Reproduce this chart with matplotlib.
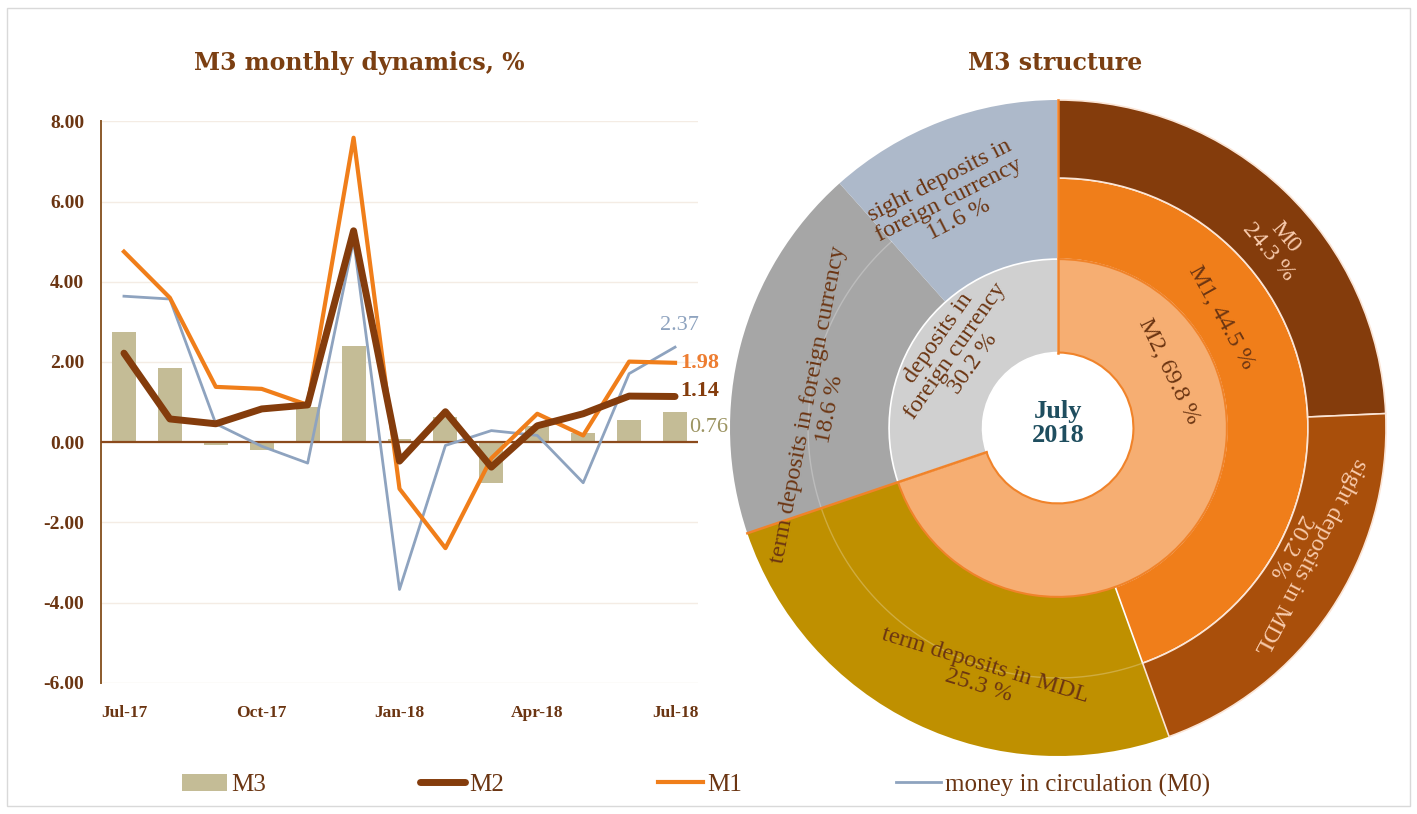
import matplotlib.pyplot as plt
import numpy as np
from matplotlib.patches import Rectangle, Patch
from matplotlib.lines import Line2D

# monthly dynamics, %
months = ["Jul-17", "Aug-17", "Sep-17", "Oct-17", "Nov-17", "Dec-17", "Jan-18",
          "Feb-18", "Mar-18", "Apr-18", "May-18", "Jun-18", "Jul-18"]
m3 = [2.75, 1.84, -0.06, -0.20, 0.88, 2.41, 0.08, 0.63, -1.01, 0.41, 0.24, 0.56, 0.76]
m2 = [2.22, 0.58, 0.46, 0.83, 0.93, 5.27, -0.47, 0.76, -0.62, 0.41, 0.71, 1.15, 1.14]
m1 = [4.75, 3.60, 1.38, 1.33, 0.93, 7.59, -1.16, -2.64, -0.40, 0.71, 0.17, 2.01, 1.98]
m0 = [3.64, 3.57, 0.46, -0.10, -0.52, 5.04, -3.67, -0.08, 0.29, 0.17, -1.01, 1.71, 2.37]

# M3 structure, July 2018 (%)
inner_names = ["M2", "deposits in foreign currency"]
inner_vals = [69.8, 30.2]
middle_names = ["M1", "term deposits in MDL", "term deposits in foreign currency",
                "sight deposits in foreign currency"]
middle_vals = [44.5, 25.3, 18.6, 11.6]
outer_names = ["M0", "sight deposits in MDL"]
outer_vals = [24.3, 20.2]

BROWN = "#843C0C"
TXT = "#6B3512"
C_M3, C_M2, C_M1, C_M0 = "#C4BC96", "#843C0C", "#F07E1A", "#8EA3BF"

plt.rcParams["font.family"] = ["Liberation Serif", "DejaVu Serif"]

fig = plt.figure(figsize=(14.17, 8.14), dpi=100)
fig.patches.append(Rectangle((0.005, 0.01), 0.99, 0.98, transform=fig.transFigure,
                             fill=False, edgecolor="#D9D9D9", linewidth=1))

# ---------------- left: line/bar chart ----------------
ax = fig.add_axes([101 / 1417, 0.161, 597 / 1417, 0.690])
x = np.arange(len(months))
ax.bar(x, m3, width=0.52, color=C_M3, zorder=2)
ax.axhline(0, color="#8B4A1C", linewidth=1.6, zorder=3)
ax.plot(x, m0, color=C_M0, linewidth=2.0, zorder=4)
ax.plot(x, m1, color=C_M1, linewidth=3.0, zorder=5)
ax.plot(x, m2, color=C_M2, linewidth=5.0, zorder=6, solid_capstyle="round")

ax.set_xlim(-0.5, 12.5)
ax.set_ylim(-6, 8)
yt = np.arange(-6, 8.1, 2)
ax.set_yticks(yt)
ax.set_yticklabels([f"{v:.2f}" for v in yt], fontsize=14, color=TXT, fontweight="bold")
ax.set_xticks(x[::3])
ax.set_xticklabels(months[::3], fontsize=12.5, color=TXT, fontweight="bold")
ax.tick_params(length=0)
ax.tick_params(axis="y", pad=12)
ax.tick_params(axis="x", pad=16)
ax.yaxis.grid(True, color="#F4ECE4", linewidth=1)
ax.set_axisbelow(True)
for s in ["top", "right", "bottom"]:
    ax.spines[s].set_visible(False)
ax.spines["left"].set_color("#8B5A2B")
ax.spines["left"].set_linewidth(1.4)

fig.text(359 / 1417, 1 - 63 / 814, "M3 monthly dynamics, %", ha="center", va="center",
         fontsize=17, fontweight="bold", color="#7B3F12", family="DejaVu Serif")

last = len(months) - 1
ax.annotate(f"{m0[-1]:.2f}", (last, m0[-1]), xytext=(3, 9), textcoords="offset points",
            color=C_M0, fontsize=16, ha="center", va="bottom", annotation_clip=False)
ax.annotate(f"{m1[-1]:.2f}", (last, m1[-1]), xytext=(4, 0), textcoords="offset points",
            color="#ED7D31", fontsize=16, fontweight="bold", ha="left", va="center",
            annotation_clip=False)
ax.annotate(f"{m2[-1]:.2f}", (last, m2[-1]), xytext=(4, 4), textcoords="offset points",
            color=BROWN, fontsize=16, fontweight="bold", ha="left", va="center",
            annotation_clip=False)
ax.annotate(f"{m3[-1]:.2f}", (last, m3[-1]), xytext=(10, -11), textcoords="offset points",
            color="#9C9462", fontsize=16, ha="left", va="center", annotation_clip=False,
            zorder=10)

# legend
LEG_SIZE = 18
px2pt = 0.72
handles = [Patch(facecolor=C_M3), Line2D([], [], color=C_M2, linewidth=5, solid_capstyle="round"),
           Line2D([], [], color=C_M1, linewidth=3), Line2D([], [], color=C_M0, linewidth=2)]
fig.legend(handles, ["M3", "M2", "M1", "money in circulation (M0)"], loc="center left",
           bbox_to_anchor=(182 / 1417, 1 - 785 / 814), ncol=4, frameon=False,
           fontsize=LEG_SIZE, labelcolor=TXT,
           handlelength=45 * px2pt / LEG_SIZE, handletextpad=4 * px2pt / LEG_SIZE,
           columnspacing=154 * px2pt / LEG_SIZE, borderpad=0, borderaxespad=0)

# ---------------- right: sunburst ----------------
CX, CY, RPX = 1058, 428, 328
lim = 350 / RPX
pax = fig.add_axes([(CX - 350) / 1417, (814 - CY - 350) / 814, 700 / 1417, 700 / 814])
pax.patch.set_visible(False)

R_HOLE, R1, R2, R3 = 0.23, 0.515, 0.762, 1.0
kw = dict(startangle=90, counterclock=False)

# middle-level leaves that extend to the outer edge
w_ext, _ = pax.pie(middle_vals, radius=R3,
                   colors=["none", "#BF9000", "#A6A6A6", "#ADB9CA"],
                   wedgeprops=dict(width=R3 - R1, edgecolor="none"), **kw)
w_ext[0].set_visible(False)

# middle ring: M1
w_mid, _ = pax.pie(middle_vals, radius=R2, colors=[C_M1, "none", "none", "none"],
                   wedgeprops=dict(width=R2 - R1, edgecolor="white", linewidth=1.2), **kw)
for w in w_mid[1:]:
    w.set_visible(False)

# outer ring: M0 and sight deposits in MDL
w_out, _ = pax.pie(outer_vals + [100 - sum(outer_vals)], radius=R3,
                   colors=[BROWN, "#A94F0B", "none"],
                   wedgeprops=dict(width=R3 - R2, edgecolor="#FBE5D6", linewidth=1.2), **kw)
w_out[-1].set_visible(False)

# inner ring
w_in, _ = pax.pie(inner_vals, radius=R1, colors=["#F6AE72", "#D0D0D0"],
                  wedgeprops=dict(width=R1 - R_HOLE, edgecolor="white", linewidth=1.2), **kw)
w_in[0].set_edgecolor("#F0832A")
w_in[0].set_linewidth(1.5)

# thin orange boundaries at the top and between gold/gray
for frac in [0.0, inner_vals[0] / 100]:
    th = np.deg2rad(360 * frac)
    pax.plot([R_HOLE * np.sin(th), R3 * np.sin(th)], [R_HOLE * np.cos(th), R3 * np.cos(th)],
             color="#F0832A", linewidth=1.8, zorder=5)

# faint separator at R2 inside gold and gray
for w in w_ext[1:3]:
    tt = np.linspace(np.deg2rad(w.theta1), np.deg2rad(w.theta2), 60)
    pax.plot(R2 * np.cos(tt), R2 * np.sin(tt), color="white", alpha=0.25, linewidth=1, zorder=4)

labels = [
    ("M0\n24.3 %", 50, 0.87, -50, "#F8CBAD"),
    ("sight deposits in MDL\n20.2 %", 117, 0.83, -118, "#F8CBAD"),
    ("M1, 44.5 %", 56, 0.60, -61, TXT),
    ("M2, 69.8 %", 63, 0.38, -64, TXT),
    ("deposits in\nforeign currency\n30.2 %", 307, 0.39, 55, TXT),
    ("sight deposits in\nforeign currency\n11.6 %", 334.5, 0.77, 27, TXT),
    ("term deposits in foreign currency\n18.6 %", 275, 0.73, 79, TXT),
    ("term deposits in MDL\n25.3 %", 197, 0.79, -17, TXT),
]
for txt, th, r, rot, col in labels:
    t = np.deg2rad(th)
    pax.text(r * np.sin(t), r * np.cos(t), txt, rotation=rot, rotation_mode="anchor",
             ha="center", va="center", fontsize=17.5, color=col, linespacing=1.05, zorder=6)

pax.text(0, 0.015, "July\n2018", ha="center", va="center", fontsize=19, fontweight="bold",
         color="#1F4E5F", linespacing=1.05)

pax.set_xlim(-lim, lim)
pax.set_ylim(-lim, lim)
pax.set_aspect("equal")
pax.axis("off")

fig.text(1055 / 1417, 1 - 63 / 814, "M3 structure", ha="center", va="center",
         fontsize=17, fontweight="bold", color="#7B3F12", family="DejaVu Serif")

fig.savefig("out.png", dpi=100)
